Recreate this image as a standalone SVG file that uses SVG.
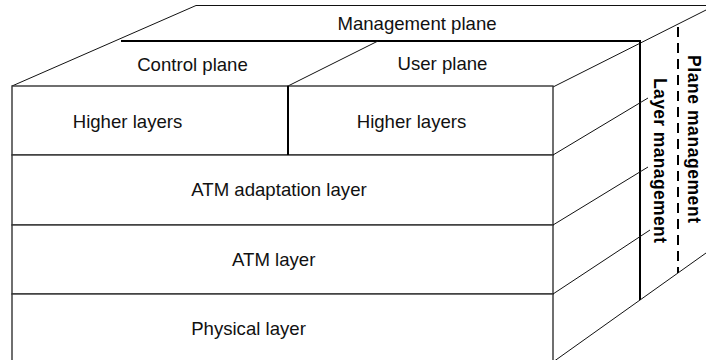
<svg xmlns="http://www.w3.org/2000/svg" width="706" height="360" viewBox="0 0 706 360">
<style>
  .lbl { font-family: "Liberation Sans", Arial, sans-serif; font-size: 18.6px; fill: #111; text-anchor: middle; }
  .vlbl { font-family: "Liberation Sans", Arial, sans-serif; font-size: 17.5px; font-weight: bold; fill: #000; }
  .face { fill: #fff; stroke: #333; stroke-width: 1.4; }
  .thin { stroke: #111; stroke-width: 1; fill: none; }
  .thick { stroke: #000; stroke-width: 2; fill: none; }
  .dash { stroke: #000; stroke-width: 2; fill: none; stroke-dasharray: 10 6; }
</style>
<rect width="706" height="360" fill="#fff"/>
<g id="top-face">
  <line class="thin" x1="12" y1="86" x2="196" y2="5.5"/>
  <line class="thin" x1="196" y1="5.5" x2="706" y2="5.5"/>
  <line class="thin" x1="553" y1="87" x2="712" y2="7"/>
</g>
<g id="management-plane">
  <line class="thick" x1="121" y1="41" x2="641" y2="41"/>
  <line class="thick" x1="640" y1="41" x2="640" y2="300"/>
  <text class="lbl" x="417" y="30">Management plane</text>
</g>
<g id="control-plane">
  <text class="lbl" x="192.5" y="71">Control plane</text>
</g>
<g id="user-plane">
  <line class="thin" x1="288" y1="86" x2="378" y2="41"/>
  <text class="lbl" x="442.5" y="70">User plane</text>
</g>
<g id="higher-layers-control">
  <rect class="face" x="12" y="86" width="276" height="69"/>
  <text class="lbl" x="127.5" y="128">Higher layers</text>
</g>
<g id="higher-layers-user">
  <rect class="face" x="288" y="86" width="265" height="69"/>
  <text class="lbl" x="411.5" y="128">Higher layers</text>
</g>
<g id="atm-adaptation-layer">
  <rect class="face" x="12" y="155" width="541" height="70"/>
  <text class="lbl" x="279" y="196">ATM adaptation layer</text>
</g>
<g id="atm-layer">
  <rect class="face" x="12" y="225" width="541" height="69"/>
  <text class="lbl" x="273.7" y="266">ATM layer</text>
</g>
<g id="physical-layer">
  <rect class="face" x="12" y="294" width="541" height="70"/>
  <text class="lbl" x="248.5" y="335">Physical layer</text>
</g>
<line class="thick" x1="288" y1="86" x2="288" y2="155"/>
<g id="layer-management">
  <text class="vlbl" transform="translate(654,78) rotate(90)" textLength="165" lengthAdjust="spacing">Layer management</text>
</g>
<g id="plane-management">
  <line class="dash" x1="678" y1="27" x2="678" y2="273"/>
  <text class="vlbl" transform="translate(688,55) rotate(90)" textLength="168" lengthAdjust="spacing">Plane management</text>
</g>
<g id="connectors">
  <line class="thin" x1="553" y1="155" x2="648" y2="98"/>
  <line class="thin" x1="553" y1="225" x2="648" y2="167"/>
  <line class="thin" x1="553" y1="294" x2="650" y2="230"/>
  <line class="thin" x1="553" y1="362" x2="706" y2="253"/>
</g>
</svg>
